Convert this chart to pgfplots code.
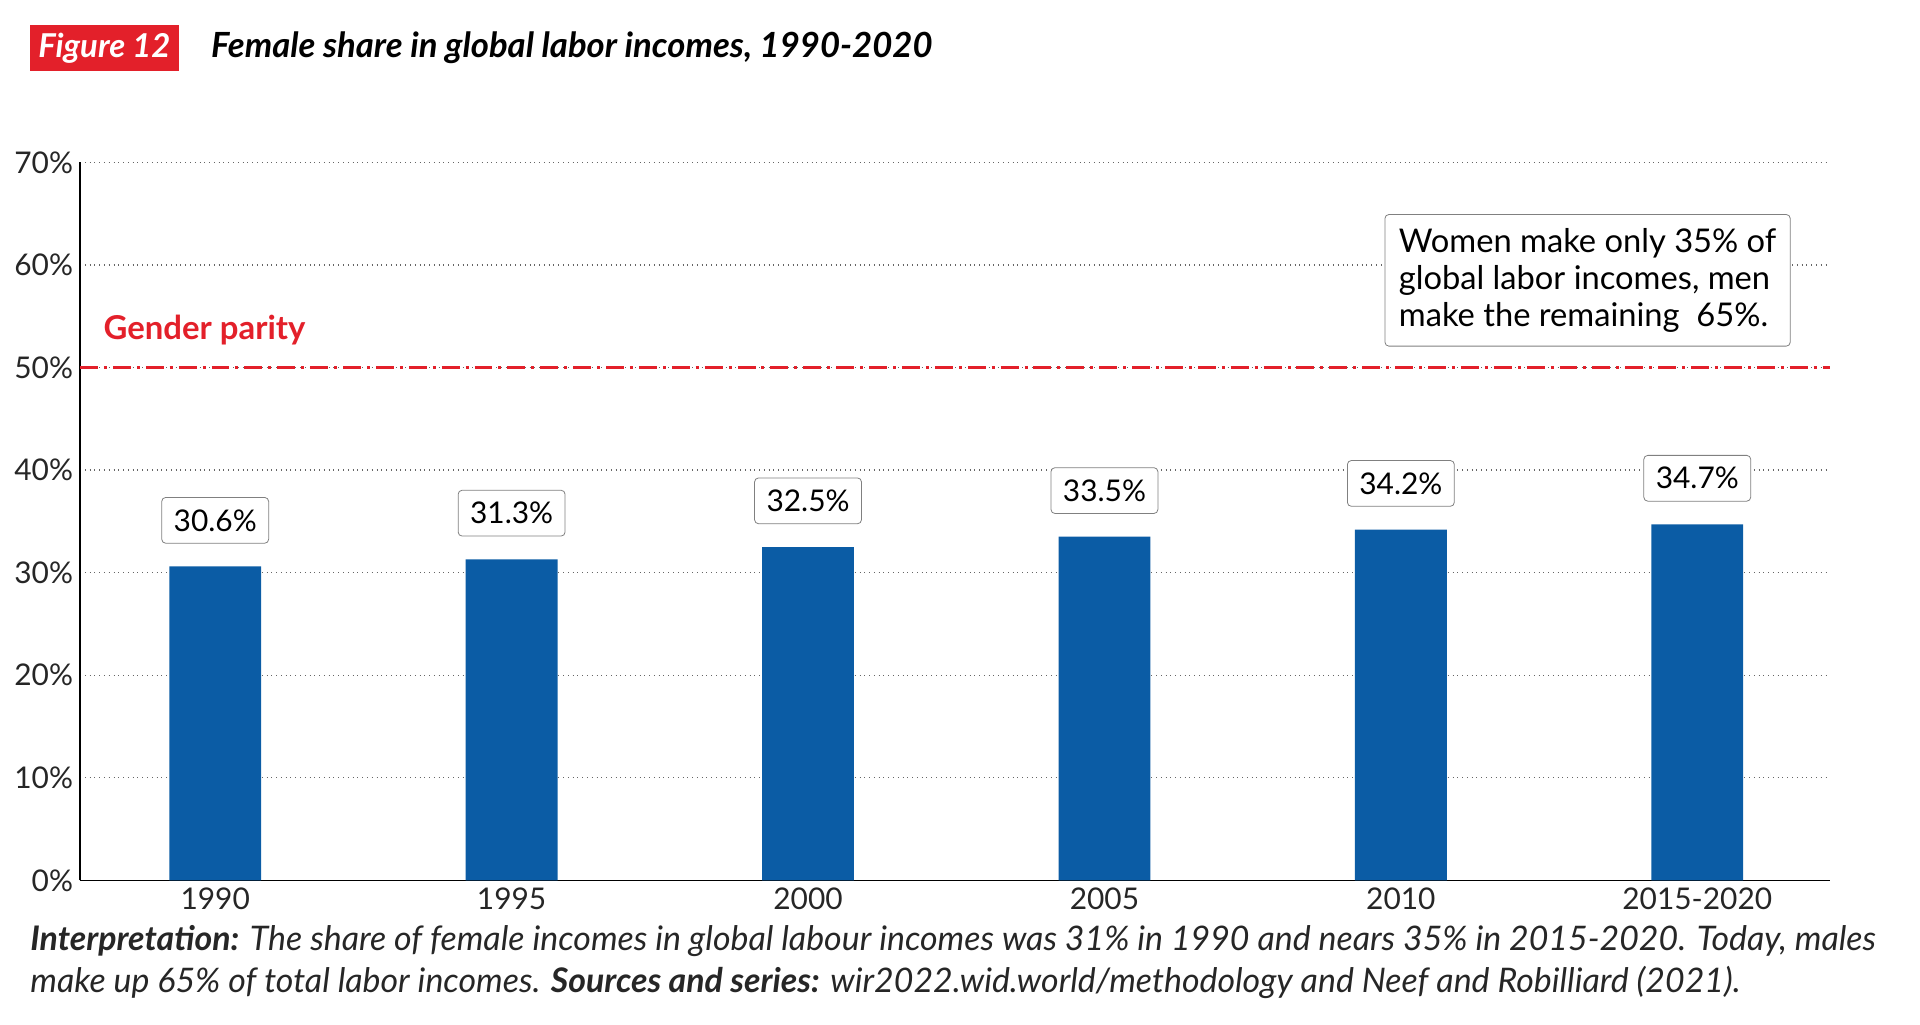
\documentclass[border=0pt]{standalone}
\usepackage{pgfplots}
\pgfplotsset{compat=1.18}
\usepackage{fontspec}
\setmainfont{Lato}
\definecolor{barblue}{HTML}{0B5CA5}
\definecolor{wred}{HTML}{E3202A}
\begin{document}
\begin{tikzpicture}[x=1bp,y=1bp]
\path (0,0) rectangle (960,512.5);
\begin{axis}[at={(27,141)},anchor=south west,scale only axis,
 width=875bp,height=359bp,
 xmin=-0.456,xmax=5.448,ymin=0,ymax=70,
 xtick={0,...,5},xticklabels={1990,1995,2000,2005,2010,2015-2020},
 ytick={0,10,...,70},yticklabel={\pgfmathprintnumber{\tick}\%},
 /pgf/number format/assume math mode=true,
 tick label style={font=\fontsize{15}{18}\selectfont, color=black!85},
 ymajorgrids, grid style={dotted,black!60,line width=0.6pt},
 axis x line*=bottom, axis y line*=left, tick style={draw=none},
 axis line style={black,line width=0.7pt},
 clip=false]
\addplot[ybar,bar width=0.31,fill=barblue,draw=none] coordinates {(0,30.6)(1,31.3)(2,32.5)(3,33.5)(4,34.2)(5,34.7)};
\addplot[wred,line width=2pt,dash pattern=on 9pt off 3pt on 1.5pt off 3pt] coordinates {(-0.456,50)(5.448,50)};
\foreach \x/\v in {0/30.6,1/31.3,2/32.5,3/33.5,4/34.2,5/34.7}{
 \edef\tmp{\noexpand\node[draw=black!50,fill=white,rounded corners=2pt,inner sep=6pt,font=\noexpand\fontsize{15}{18}\noexpand\selectfont] at (axis cs:\x,\v+4.5) {\v\%};}\tmp
}
\node[anchor=south west,text=wred,font=\bfseries\fontsize{16.5}{19}\selectfont] at (axis cs:-0.4,51.5) {Gender parity};
\node[draw=black!50,fill=white,rounded corners=2pt,align=left,inner sep=7pt,font=\fontsize{16.4}{18.5}\selectfont] at (axis cs:4.63,58.5) {Women make only 35\% of\\global labor incomes, men\\make the remaining~ 65\%.};
\end{axis}
\node[fill=wred,text=white,font=\bfseries\itshape\fontsize{16.5}{19}\selectfont,inner sep=4pt,anchor=west] at (15,488.5) {Figure 12};
\node[font=\bfseries\itshape\fontsize{17.4}{20}\selectfont,anchor=west] at (102,488.5) {Female share in global labor incomes, 1990-2020};
\node[anchor=north west,align=left,font=\itshape\fontsize{17}{21}\selectfont,text=black!85,inner sep=0pt] at (15,50) {\textbf{Interpretation:} The share of female incomes in global labour incomes was 31\% in 1990 and nears 35\% in 2015-2020. Today, males\\make up 65\% of total labor incomes. \textbf{Sources and series:} wir2022.wid.world/methodology and Neef and Robilliard (2021).};
\end{tikzpicture}
\end{document}
